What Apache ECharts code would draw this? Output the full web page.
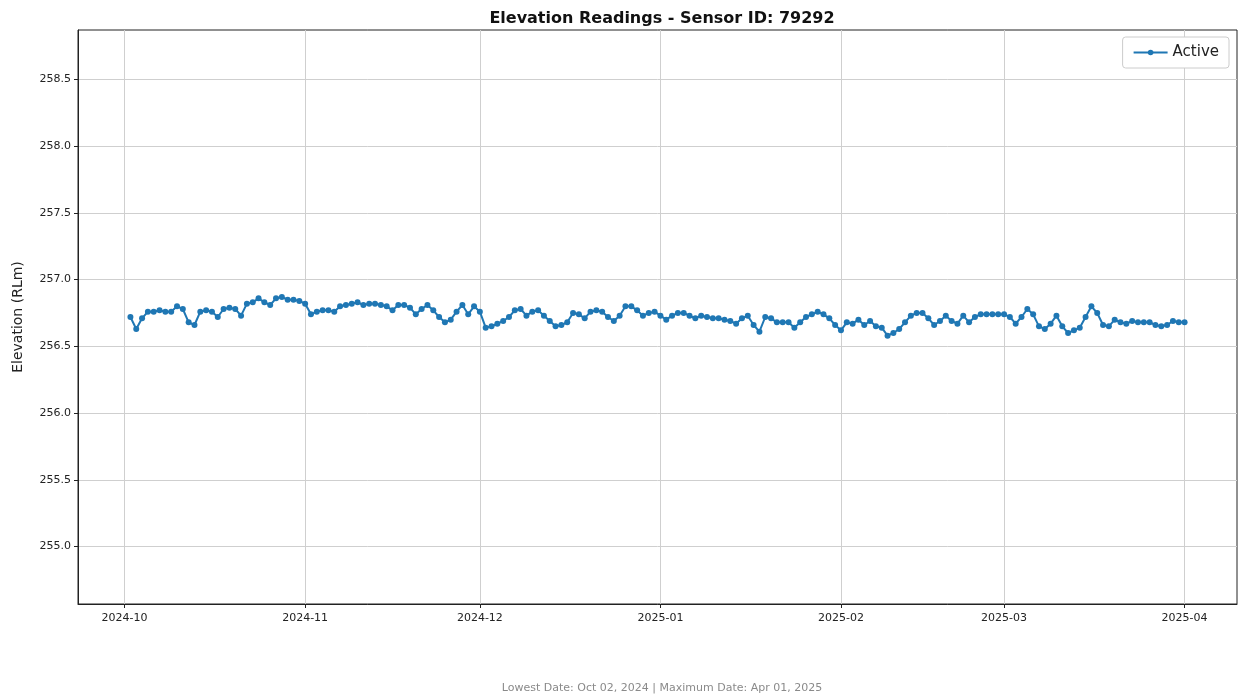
<!DOCTYPE html>
<html>
<head>
<meta charset="utf-8">
<script src="https://cdn.jsdelivr.net/npm/echarts@6/dist/echarts.min.js"></script>
<style>
  html, body { margin: 0; padding: 0; background: #fff; }
  #chart { width: 1238px; height: 700px; }
</style>
</head>
<body>
<div id="chart"></div>
<script>
// daily readings, Oct 02 2024 -> Apr 01 2025
var START_DATE = [2024, 9, 2];
var elevation = [
  256.72, 256.63, 256.71, 256.76, 256.76, 256.77, 256.76, 256.76, 256.80, 256.78,
  256.68, 256.66, 256.76, 256.77, 256.76, 256.72, 256.78, 256.79, 256.78, 256.73,
  256.82, 256.83, 256.86, 256.83, 256.81, 256.86, 256.87, 256.85, 256.85, 256.84,
  256.82, 256.74, 256.76, 256.77, 256.77, 256.76, 256.80, 256.81, 256.82, 256.83,
  256.81, 256.82, 256.82, 256.81, 256.80, 256.77, 256.81, 256.81, 256.79, 256.74,
  256.78, 256.81, 256.77, 256.72, 256.68, 256.70, 256.76, 256.81, 256.74, 256.80,
  256.76, 256.64, 256.65, 256.67, 256.69, 256.72, 256.77, 256.78, 256.73, 256.76,
  256.77, 256.73, 256.69, 256.65, 256.66, 256.68, 256.75, 256.74, 256.71, 256.76,
  256.77, 256.76, 256.72, 256.69, 256.73, 256.80, 256.80, 256.77, 256.73, 256.75,
  256.76, 256.73, 256.70, 256.73, 256.75, 256.75, 256.73, 256.71, 256.73, 256.72,
  256.71, 256.71, 256.70, 256.69, 256.67, 256.71, 256.73, 256.66, 256.61, 256.72,
  256.71, 256.68, 256.68, 256.68, 256.64, 256.68, 256.72, 256.74, 256.76, 256.74,
  256.71, 256.66, 256.62, 256.68, 256.67, 256.70, 256.66, 256.69, 256.65, 256.64,
  256.58, 256.60, 256.63, 256.68, 256.73, 256.75, 256.75, 256.71, 256.66, 256.69,
  256.73, 256.69, 256.67, 256.73, 256.68, 256.72, 256.74, 256.74, 256.74, 256.74,
  256.74, 256.72, 256.67, 256.72, 256.78, 256.74, 256.65, 256.63, 256.67, 256.73,
  256.65, 256.60, 256.62, 256.64, 256.72, 256.80, 256.75, 256.66, 256.65, 256.70,
  256.68, 256.67, 256.69, 256.68, 256.68, 256.68, 256.66, 256.65, 256.66, 256.69,
  256.68, 256.68
];
var monthTicks = ["2024-10", "2024-11", "2024-12", "2025-01", "2025-02", "2025-03", "2025-04"];
var yTicks = [255.0, 255.5, 256.0, 256.5, 257.0, 257.5, 258.0, 258.5];

function pad(n) { return (n < 10 ? "0" : "") + n; }
function ts(s) {
  var p = s.split("-");
  return new Date(+p[0], +p[1] - 1, p[2] ? +p[2] : 1).getTime();
}

var points = elevation.map(function (v, i) {
  return [new Date(START_DATE[0], START_DATE[1], START_DATE[2] + i).getTime(), v];
});
var tickVals = monthTicks.map(ts);

var FONT = "DejaVu Sans";
var chart = echarts.init(document.getElementById("chart"));
chart.setOption({
  animation: false,
  textStyle: { fontFamily: FONT },
  title: [{
    text: "Elevation Readings - Sensor ID: 79292",
    left: 657, top: 6, textAlign: "center",
    textStyle: { fontFamily: FONT, fontWeight: "bold", fontSize: 16, color: "#111" }
  }, {
    text: "Lowest Date: Oct 02, 2024 | Maximum Date: Apr 01, 2025",
    left: 657, top: 678, textAlign: "center",
    textStyle: { fontFamily: FONT, fontWeight: "normal", fontSize: 11, color: "#8a8a8a" }
  }],
  legend: {
    right: 9, top: 37,
    data: ["Active"],
    itemWidth: 34, itemHeight: 7, itemGap: 6,
    padding: [8, 10, 8, 10],
    borderColor: "#cccccc", borderWidth: 1, borderRadius: 3,
    backgroundColor: "#fff",
    textStyle: { fontFamily: FONT, fontSize: 15, color: "#222" }
  },
  grid: {
    left: 78, right: 1, top: 30, bottom: 96,
    show: true, borderColor: "#222", borderWidth: 1
  },
  xAxis: {
    type: "value",
    min: ts("2024-09-23"), max: ts("2025-04-10"),
    axisLine: { lineStyle: { color: "#222" } },
    axisTick: { show: true, length: 4, customValues: tickVals, lineStyle: { color: "#222" } },
    axisLabel: {
      customValues: tickVals, margin: 9, fontSize: 11, color: "#222",
      formatter: function (v) {
        var d = new Date(v);
        return d.getFullYear() + "-" + pad(d.getMonth() + 1);
      }
    },
    splitLine: { show: true, lineStyle: { color: "#cfcfcf", width: 1 } }
  },
  yAxis: {
    type: "value",
    min: 254.57, max: 258.87,
    name: "Elevation (RLm)", nameLocation: "middle", nameGap: 53, nameRotate: 90,
    nameTextStyle: { fontFamily: FONT, fontSize: 14, color: "#222" },
    axisLine: { show: true, lineStyle: { color: "#222" } },
    axisTick: { show: true, length: 4, customValues: yTicks, lineStyle: { color: "#222" } },
    axisLabel: {
      customValues: yTicks, fontSize: 11, color: "#222", margin: 7,
      formatter: function (v) { return v.toFixed(1); }
    },
    splitLine: { show: true, lineStyle: { color: "#cfcfcf", width: 1 } }
  },
  series: [{
    name: "Active",
    type: "line",
    data: points,
    symbol: "circle",
    symbolSize: 6,
    showAllSymbol: true,
    itemStyle: { color: "#1f77b4" },
    lineStyle: { color: "#1f77b4", width: 2 }
  }]
});
</script>
</body>
</html>
